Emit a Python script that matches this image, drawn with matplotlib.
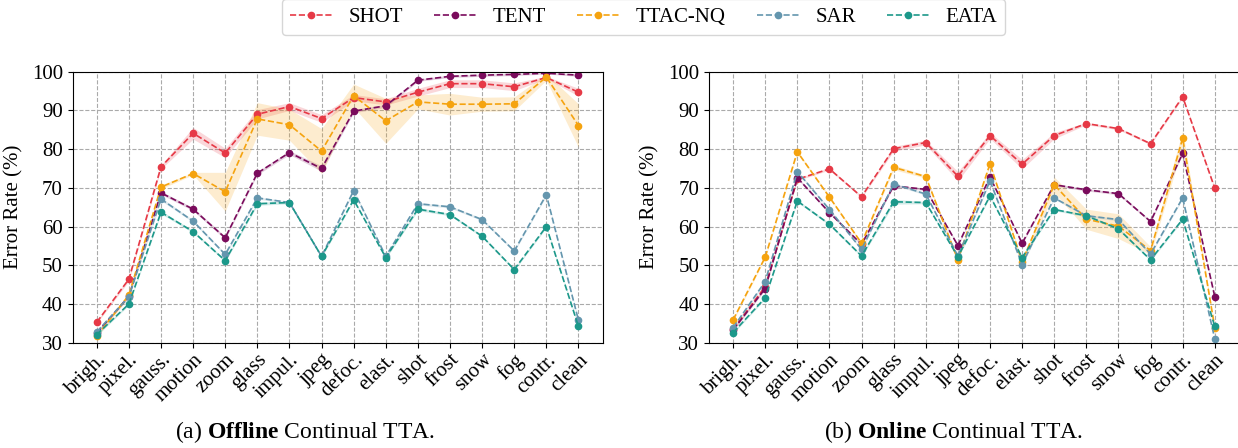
import numpy as np
import matplotlib
matplotlib.use('Agg')
import matplotlib.pyplot as plt

plt.rcParams['font.family'] = ['Liberation Serif', 'DejaVu Serif']
plt.rcParams['mathtext.fontset'] = 'custom'
plt.rcParams['mathtext.rm'] = 'Liberation Serif'
plt.rcParams['mathtext.bf'] = 'Liberation Serif:bold'

corruptions = ['brigh.', 'pixel.', 'gauss.', 'motion', 'zoom', 'glass', 'impul.', 'jpeg',
               'defoc.', 'elast.', 'shot', 'frost', 'snow', 'fog', 'contr.', 'clean']
methods = ['SHOT', 'TENT', 'TTAC-NQ', 'SAR', 'EATA']
colors = ['#e63946', '#7a0b5c', '#f5a30f', '#6496ae', '#1c988a']

# offline continual TTA (mean error, std)
off_shot = [35.3, 46.4, 75.4, 84.1, 79.0, 89.0, 91.0, 87.9, 93.3, 92.2, 94.7, 96.9, 96.9, 96.1, 98.5, 94.7]
off_tent = [32.5, 42.0, 68.7, 64.5, 57.1, 73.8, 79.1, 75.0, 89.8, 91.2, 97.8, 98.8, 99.1, 99.3, 99.6, 99.1]
off_ttac = [31.7, 42.3, 70.2, 73.7, 69.0, 87.8, 86.3, 79.5, 93.8, 87.3, 92.2, 91.6, 91.6, 91.7, 98.6, 86.1]
off_sar = [32.8, 41.9, 67.1, 61.4, 52.8, 67.4, 66.2, 52.3, 69.3, 52.3, 65.9, 65.1, 61.8, 53.7, 68.2, 35.8]
off_eata = [32.1, 40.0, 63.7, 58.7, 51.2, 65.9, 66.2, 52.3, 66.9, 52.0, 64.5, 63.1, 57.5, 48.9, 60.0, 34.2]

off_shot_std = [0.3, 0.5, 0.5, 1.5, 1.2, 1.2, 1.0, 1.0, 0.8, 0.8, 1.0, 1.0, 1.0, 1.0, 0.3, 1.0]
off_tent_std = [0.3, 0.3, 0.4, 0.4, 0.4, 0.4, 0.5, 0.7, 0.4, 0.4, 0.3, 0.3, 0.3, 0.3, 0.2, 0.3]
off_ttac_std = [0.3, 0.5, 0.5, 0.3, 5.0, 4.2, 4.0, 5.8, 3.0, 5.8, 1.8, 2.8, 1.8, 1.8, 0.8, 5.6]
off_sar_std = [0.3, 0.3, 0.4, 0.3, 0.3, 0.3, 0.3, 0.3, 0.3, 0.3, 0.3, 0.3, 0.3, 0.3, 0.3, 0.3]
off_eata_std = [0.3, 0.3, 0.4, 0.3, 0.3, 0.4, 0.3, 0.3, 0.3, 0.3, 0.4, 0.3, 0.3, 0.3, 0.3, 0.3]

# online continual TTA
on_shot = [33.5, 44.5, 72.2, 74.9, 67.7, 80.1, 81.7, 73.0, 83.5, 76.1, 83.5, 86.6, 85.3, 81.4, 93.5, 69.9]
on_tent = [33.3, 44.0, 72.6, 63.6, 55.4, 70.5, 69.6, 55.1, 72.8, 55.7, 70.8, 69.5, 68.5, 61.3, 78.9, 41.9]
on_ttac = [35.9, 52.1, 79.3, 67.6, 55.7, 75.3, 72.9, 51.4, 76.2, 50.9, 70.8, 61.9, 60.1, 53.8, 82.8, 33.9]
on_sar = [33.9, 45.8, 74.2, 64.4, 54.1, 71.0, 68.4, 52.4, 71.8, 50.2, 67.4, 62.8, 61.8, 52.9, 67.4, 31.0]
on_eata = [32.6, 41.6, 66.6, 60.6, 52.4, 66.4, 66.2, 52.2, 67.9, 52.0, 64.4, 62.8, 59.4, 51.4, 61.9, 34.2]

on_shot_std = [0.3, 0.3, 0.3, 0.3, 0.3, 0.6, 0.6, 1.2, 0.8, 1.2, 0.8, 0.3, 0.3, 0.3, 0.3, 0.3]
on_tent_std = [0.3, 0.3, 0.3, 0.3, 0.3, 0.3, 0.3, 0.3, 0.3, 0.3, 0.3, 0.3, 0.3, 0.3, 0.3, 0.3]
on_ttac_std = [0.3, 0.3, 0.3, 0.3, 0.3, 0.6, 0.4, 0.4, 0.4, 0.4, 2.0, 2.6, 3.2, 1.0, 2.0, 0.4]
on_sar_std = [0.3, 0.3, 0.3, 0.3, 0.3, 0.3, 0.3, 0.3, 0.3, 0.3, 0.3, 0.3, 0.3, 0.3, 0.3, 0.3]
on_eata_std = [0.3, 0.3, 0.3, 0.3, 0.3, 0.6, 0.3, 0.3, 0.3, 0.3, 0.3, 0.3, 0.3, 0.3, 0.3, 0.3]

offline = [(off_shot, off_shot_std), (off_tent, off_tent_std), (off_ttac, off_ttac_std),
           (off_sar, off_sar_std), (off_eata, off_eata_std)]
online = [(on_shot, on_shot_std), (on_tent, on_tent_std), (on_ttac, on_ttac_std),
          (on_sar, on_sar_std), (on_eata, on_eata_std)]

fig = plt.figure(figsize=(12.38, 4.48), dpi=100)
ax1 = fig.add_axes([0.0587, 0.235, 0.428, 0.605])
ax2 = fig.add_axes([0.5727, 0.235, 0.428, 0.605])

x = np.arange(len(corruptions))
for ax, data in [(ax1, offline), (ax2, online)]:
    for name, c, (mean, std) in zip(methods, colors, data):
        mean = np.array(mean)
        std = np.array(std)
        ax.fill_between(x, mean - std, mean + std, color=c, alpha=0.2, linewidth=0)
        ax.plot(x, mean, linestyle='--', marker='o', markersize=4.5, linewidth=1.2,
                color=c, label=name)
    ax.set_ylim(30, 100)
    ax.set_yticks(np.arange(30, 101, 10))
    ax.set_xticks(x)
    ax.set_xticklabels(corruptions, rotation=45, ha='right', rotation_mode='anchor', fontsize=15)
    ax.tick_params(axis='y', labelsize=15)
    ax.tick_params(axis='x', pad=2)
    ax.set_ylabel('Error Rate (%)', fontsize=15, labelpad=6)
    ax.grid(True, linestyle='--', color='#aaaaaa', linewidth=0.8)
    ax.set_axisbelow(True)

handles, labels = ax1.get_legend_handles_labels()
fig.legend(handles, labels, loc='upper center', bbox_to_anchor=(0.52, 1.025), ncol=5,
           fontsize=15, frameon=True, handlelength=2.0, columnspacing=1.5,
           borderpad=0.4, edgecolor='#cccccc')

fig.text(0.2466, 0.036, r'(a) $\mathbf{Offline}$ Continual TTA.', ha='center', va='center', fontsize=17)
fig.text(0.77, 0.036, r'(b) $\mathbf{Online}$ Continual TTA.', ha='center', va='center', fontsize=17)

fig.savefig('out.png', dpi=100)
